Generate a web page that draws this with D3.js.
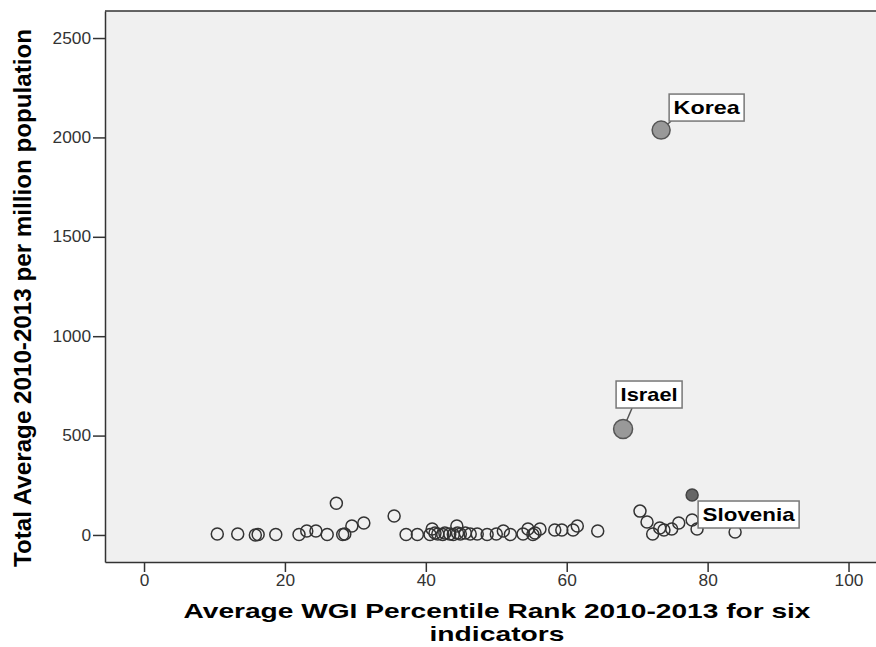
<!DOCTYPE html>
<html><head><meta charset="utf-8">
<script src="https://cdn.jsdelivr.net/npm/d3@7"></script>
<style>body{margin:0;background:#fff}</style>
</head><body><svg id="c" width="876" height="647"></svg>
<script>
// ---- data ----
const wgi = [10.4,13.3,15.8,16.2,18.7,22.0,23.1,24.4,26.0,28.2,28.5,29.5,31.2,27.3,35.5,37.2,38.8,
  40.6,40.9,41.3,41.7,42.4,42.7,43.4,43.9,44.4,44.5,44.9,45.6,46.3,47.3,48.7,50.0,51.0,52.0,53.8,54.5,55.2,55.5,56.2,58.3,59.3,60.9,61.5,64.4,
  70.4,71.4,72.2,73.2,73.8,74.9,75.9,77.8,78.5,83.9];
const perMillion = [5,5,0,2,2,2,20,20,2,2,5,45,60,160,95,2,2,
  2,30,10,5,2,10,5,2,45,10,5,10,5,5,2,5,20,2,5,30,2,10,30,25,25,25,45,20,
  120,65,5,35,25,30,60,75,30,15];
const labelNames = ["Korea","Israel","Slovenia"];
const labelWgi = [73.4,68.0,77.8];
const labelPerMillion = [2037,533,201];
const xTicks = [0,20,40,60,80,100];
const yTicks = [0,500,1000,1500,2000,2500];
const xTitleLines = ["Average WGI Percentile Rank 2010-2013 for six","indicators"];
const yTitle = "Total Average 2010-2013 per million population";

// ---- layout ----
const L = 105, T = 11, R = 876, B = 562;
const svg = d3.select("#c");
const font = "'Liberation Sans', Arial, sans-serif";
const x = d3.scaleLinear().domain([-5.54, 103.9]).range([L, R]);
const y = d3.scaleLinear().domain([-136, 2636]).range([B, T]);
function stretch(sel, f) {
  sel.each(function() {
    const w = this.getComputedTextLength();
    d3.select(this).attr("textLength", w * f).attr("lengthAdjust", "spacingAndGlyphs");
  });
}

svg.append("rect").attr("x", L).attr("y", T).attr("width", R - L + 5).attr("height", B - T).attr("fill", "#f0f0f0");
svg.append("line").attr("x1", L).attr("x2", R + 5).attr("y1", T).attr("y2", T).attr("stroke", "#333").attr("stroke-width", 1.5);

const gy = svg.append("g").attr("transform", `translate(${L},0)`)
  .call(d3.axisLeft(y).tickValues(yTicks).tickSize(12).tickPadding(2).tickSizeOuter(0).tickFormat(d3.format("d")));
const gx = svg.append("g").attr("transform", `translate(0,${B})`)
  .call(d3.axisBottom(x).tickValues(xTicks).tickSize(10).tickPadding(3).tickSizeOuter(0).tickFormat(d3.format("d")));
[gx, gy].forEach(g => {
  g.select(".domain").attr("stroke", "#333").attr("stroke-width", 1.5);
  g.selectAll(".tick line").attr("stroke", "#333").attr("stroke-width", 1.5);
  g.selectAll(".tick text").attr("font-family", font).attr("font-size", 16).attr("fill", "#333");
});
stretch(gx.selectAll(".tick text"), 1.08);
stretch(gy.selectAll(".tick text"), 1.08);

// open circles
const pts = wgi.map((v, i) => ({x: v, y: perMillion[i]}));
svg.append("g").selectAll("circle").data(pts).join("circle")
  .attr("cx", d => x(d.x)).attr("cy", d => y(d.y)).attr("r", 6)
  .attr("fill", "none").attr("stroke", "#333").attr("stroke-width", 1.5);

// labeled points
const lab = labelNames.map((n, i) => ({name: n, x: labelWgi[i], y: labelPerMillion[i]}));
const style = {
  Korea:   {r: 9, fill: "#999", stroke: "#555", bx: 8,  by: -36, w: 75, line: true},
  Israel:  {r: 9.5, fill: "#999", stroke: "#555", bx: -7, by: -48, w: 66, line: true},
  Slovenia:{r: 6, fill: "#666", stroke: "#444", bx: 6,  by: 6, w: 101, line: false}
};
const lg = svg.append("g");
lab.forEach(d => {
  const s = style[d.name];
  const cx = x(d.x), cy = y(d.y);
  const bx = cx + s.bx, by = cy + s.by;
  const t = lg.append("text").attr("font-family", font).attr("font-weight", "bold").attr("font-size", 19)
    .attr("x", bx + s.w / 2).attr("y", by + 20).attr("text-anchor", "middle").attr("fill", "#000")
    .attr("textLength", s.w - 9).attr("lengthAdjust", "spacingAndGlyphs").text(d.name);
  if (s.line) {
    const tx = s.bx > 0 ? bx + 2 : bx + 16, ty = by + 27;
    const ang = Math.atan2(ty - cy, tx - cx);
    lg.insert("line", "text").attr("x1", cx + s.r * Math.cos(ang)).attr("y1", cy + s.r * Math.sin(ang))
      .attr("x2", tx).attr("y2", ty).attr("stroke", "#555").attr("stroke-width", 1.5);
  }
  lg.insert("circle", "text").attr("cx", cx).attr("cy", cy).attr("r", s.r)
    .attr("fill", s.fill).attr("stroke", s.stroke).attr("stroke-width", 1.5);
  lg.insert("rect", "text").attr("x", bx).attr("y", by).attr("width", s.w).attr("height", 27)
    .attr("fill", "#fff").attr("stroke", "#777").attr("stroke-width", 1.5);
});

// titles
const xt = svg.append("g").attr("font-family", font).attr("font-weight", "bold").attr("font-size", 21).attr("text-anchor", "middle");
xt.append("text").attr("x", 497).attr("y", 618).attr("textLength", 627).attr("lengthAdjust", "spacingAndGlyphs").text(xTitleLines[0]);
xt.append("text").attr("x", 497).attr("y", 641).attr("textLength", 135).attr("lengthAdjust", "spacingAndGlyphs").text(xTitleLines[1]);
svg.append("text").attr("transform", "translate(31,298) scale(1.1,1) rotate(-90)")
  .attr("font-family", font).attr("font-weight", "bold").attr("font-size", 22).attr("text-anchor", "middle")
  .attr("textLength", 538).attr("lengthAdjust", "spacingAndGlyphs").text(yTitle);
</script></body></html>
